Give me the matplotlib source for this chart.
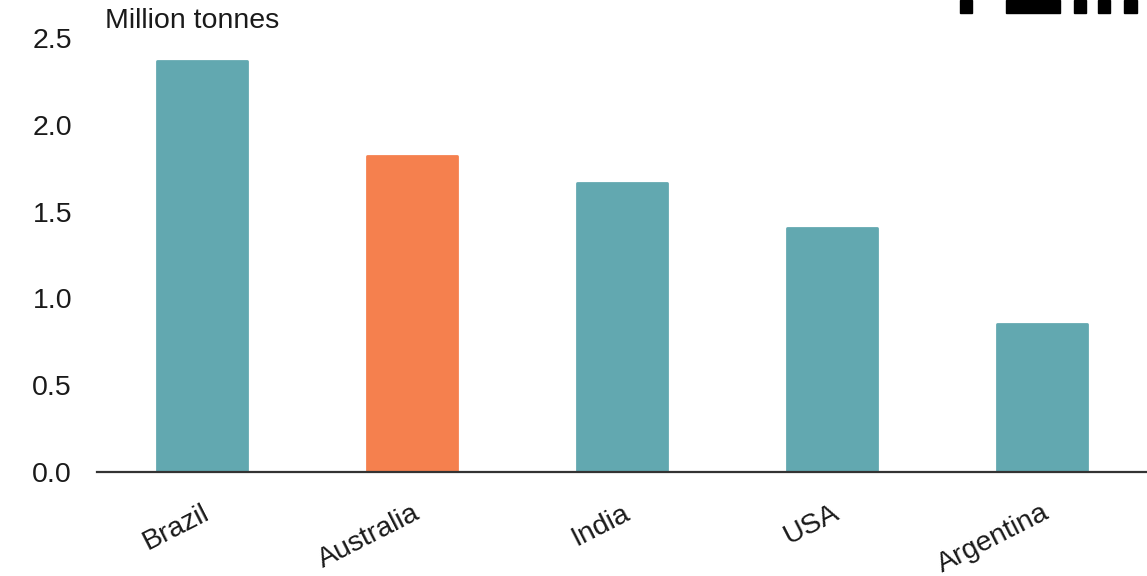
import matplotlib.pyplot as plt
from matplotlib.patches import Rectangle

countries = ["Brazil", "Australia", "India", "USA", "Argentina"]
values = [2.37, 1.82, 1.665, 1.405, 0.85]
highlight = "Australia"

teal = "#62a8b0"
orange = "#f5804e"

plt.rcParams['font.family'] = ['Liberation Sans', 'DejaVu Sans']

fig = plt.figure(figsize=(11.47, 5.76), dpi=100)
ax = fig.add_axes([0.0846, 0.1806, 0.9154, 0.7534])

colors = [orange if c == highlight else teal for c in countries]
ax.bar(range(len(countries)), values, width=0.425, color=colors,
       edgecolor=colors, linewidth=2, joinstyle='round', zorder=2)

ax.set_xlim(-0.5, 4.5)
ax.set_ylim(0, 2.5)
ax.set_yticks([0, 0.5, 1.0, 1.5, 2.0, 2.5])
ax.set_yticklabels(["0.0", "0.5", "1.0", "1.5", "2.0", "2.5"])
ax.set_xticks(range(len(countries)))
ax.set_xticklabels(countries, rotation=27, ha='right', rotation_mode='anchor')
ax.tick_params(axis='both', length=0, labelsize=20.5, colors='#1a1a1a')
ax.tick_params(axis='y', pad=18)
ax.tick_params(axis='x', pad=20)

for s in ['top', 'right', 'left']:
    ax.spines[s].set_visible(False)
ax.spines['bottom'].set_color('#333333')
ax.spines['bottom'].set_linewidth(1.6)
ax.spines['bottom'].set_zorder(3)

fig.text(105 / 1147, 1 - 21 / 576, "Million tonnes", fontsize=20.5,
         va='center', ha='left', color='#1a1a1a')

# clipped logo blocks at the top right
for x0, x1 in [(960, 972), (1006, 1060), (1074, 1086), (1098, 1110), (1124, 1137)]:
    fig.patches.append(Rectangle((x0 / 1147, 1 - 13 / 576), (x1 - x0) / 1147, 13 / 576,
                                 transform=fig.transFigure, color='black'))

fig.savefig("out.png", dpi=100)
